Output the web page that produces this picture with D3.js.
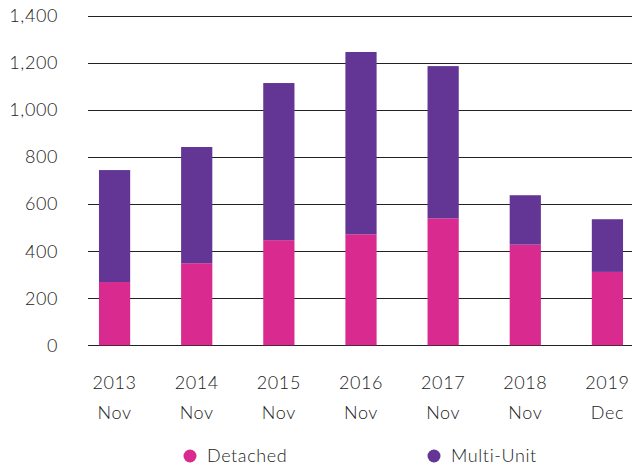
<!DOCTYPE html>
<html>
<head>
<meta charset="utf-8">
<script src="https://cdn.jsdelivr.net/npm/d3@7"></script>
<style>
  body { margin: 0; background: #fff; }
  text { font-family: Lato, "Open Sans", sans-serif; font-weight: 300; fill: #222; letter-spacing: 0.6px; }
</style>
</head>
<body>
<div id="chart"></div>
<script>
// data
var years = ["2013", "2014", "2015", "2016", "2017", "2018", "2019"];
var months = ["Nov", "Nov", "Nov", "Nov", "Nov", "Nov", "Dec"];
var detached = [269, 349, 447, 472, 540, 428, 312];
var multiUnit = [476, 494, 668, 775, 647, 210, 224];
var yTicks = [0, 200, 400, 600, 800, 1000, 1200, 1400];
var seriesNames = ["Detached", "Multi-Unit"];

var width = 632, height = 470;
var colors = { "Detached": "#d92b8f", "Multi-Unit": "#633695" };

var svg = d3.select("#chart")
    .append("svg")
    .attr("width", width)
    .attr("height", height);

var x = d3.scaleBand()
    .domain(years)
    .range([73.5, 648.5])
    .paddingInner(0.62)
    .paddingOuter(0.31);

var y = d3.scaleLinear()
    .domain([0, 1400])
    .range([345.3, 16]);

// gridlines
svg.append("g")
    .selectAll("line")
    .data(yTicks)
    .join("line")
    .attr("x1", 88)
    .attr("x2", width)
    .attr("y1", function(d) { return Math.round(y(d)) + 0.5; })
    .attr("y2", function(d) { return Math.round(y(d)) + 0.5; })
    .attr("stroke", "#222")
    .attr("stroke-width", 1.2);

// y labels
svg.append("g")
    .selectAll("text")
    .data(yTicks)
    .join("text")
    .attr("x", 58)
    .attr("y", function(d) { return y(d); })
    .attr("dy", "0.35em")
    .attr("text-anchor", "end")
    .style("font-size", "18px")
    .text(d3.format(","));

// stacked bars
var rows = years.map(function(yr, i) {
    return { year: yr, "Detached": detached[i], "Multi-Unit": multiUnit[i] };
});
var stack = d3.stack().keys(seriesNames)(rows);

svg.append("g")
    .selectAll("g")
    .data(stack)
    .join("g")
    .attr("fill", function(d) { return colors[d.key]; })
    .selectAll("rect")
    .data(function(d) { return d; })
    .join("rect")
    .attr("x", function(d) { return x(d.data.year); })
    .attr("width", x.bandwidth())
    .attr("y", function(d) { return y(d[1]); })
    .attr("height", function(d) { return y(d[0]) - y(d[1]); });

// x labels, two lines
var xl = svg.append("g")
    .selectAll("text")
    .data(years)
    .join("text")
    .attr("text-anchor", "middle")
    .style("font-size", "18px");
xl.append("tspan")
    .attr("x", function(d) { return x(d) + x.bandwidth() / 2; })
    .attr("y", 389)
    .text(function(d) { return d; });
xl.append("tspan")
    .attr("x", function(d) { return x(d) + x.bandwidth() / 2; })
    .attr("y", 419)
    .text(function(d, i) { return months[i]; });

// legend
var legX = [190, 434];
var leg = svg.append("g")
    .selectAll("g")
    .data(seriesNames)
    .join("g")
    .attr("transform", function(d, i) { return "translate(" + legX[i] + ",456)"; });
leg.append("circle")
    .attr("r", 6.5)
    .attr("fill", function(d) { return colors[d]; });
leg.append("text")
    .attr("x", 17)
    .attr("dy", "0.35em")
    .style("font-size", "18px")
    .text(function(d) { return d; });
</script>
</body>
</html>
